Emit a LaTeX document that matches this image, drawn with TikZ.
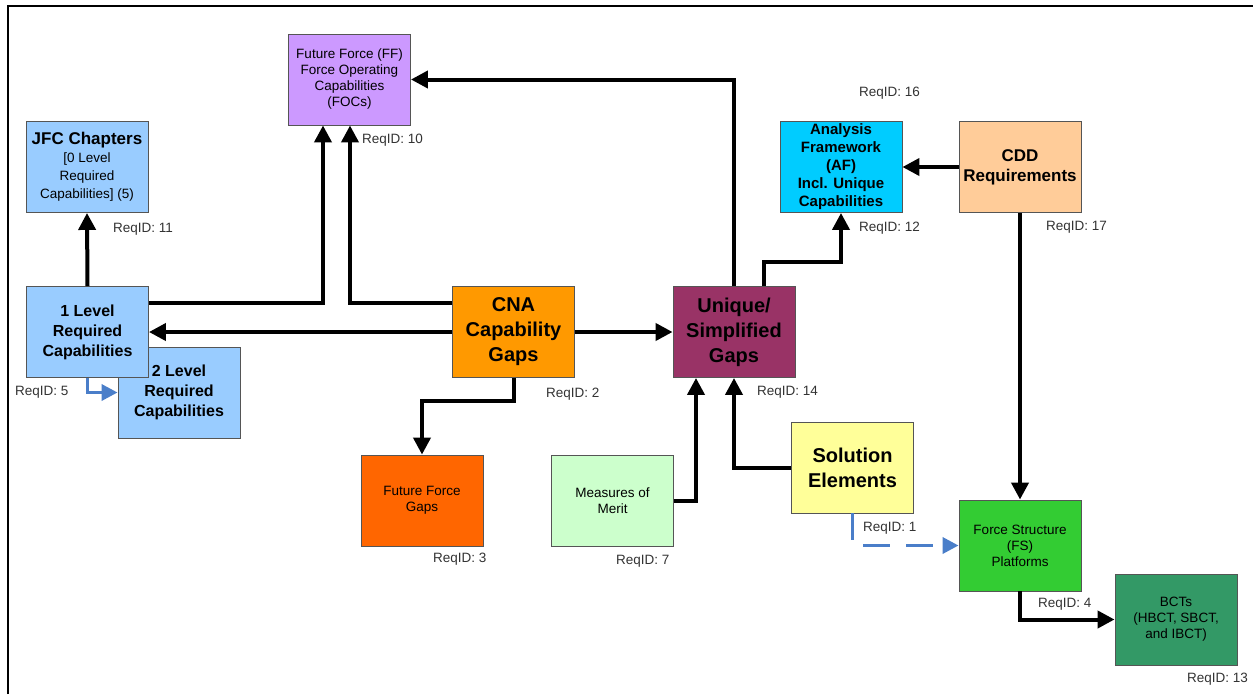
\documentclass[tikz,border=0pt]{standalone}
\usepackage{fontspec}
\setmainfont{Liberation Sans}
\usetikzlibrary{arrows.meta,calc}
\definecolor{lblue}{HTML}{99CCFF}
\definecolor{lviolet}{HTML}{CC99FF}
\definecolor{orng}{HTML}{FF9900}
\definecolor{plum}{HTML}{993366}
\definecolor{cyanb}{HTML}{00CCFF}
\definecolor{peach}{HTML}{FFCC99}
\definecolor{dorng}{HTML}{FF6600}
\definecolor{mint}{HTML}{CCFFCC}
\definecolor{lyel}{HTML}{FFFF99}
\definecolor{grn}{HTML}{33CC33}
\definecolor{sea}{HTML}{339966}
\definecolor{bluearr}{HTML}{4A7EC9}
\definecolor{bordr}{HTML}{555555}
\definecolor{reqc}{HTML}{333333}
\begin{document}
\begin{tikzpicture}[x=1pt,y=-1pt,
  box/.style={draw=bordr,line width=0.9pt,minimum width=122pt,minimum height=91pt,inner sep=0pt,align=center,text=black},
  reg/.style={font=\fontsize{13.5}{16}\selectfont},
  big/.style={font=\fontsize{20}{25}\selectfont\bfseries},
  mid/.style={font=\fontsize{16}{20}\selectfont\bfseries},
  req/.style={anchor=west,inner sep=0pt,text=reqc,font=\fontsize{13.5}{16}\selectfont},
  conn/.style={line width=4pt,-{Triangle[length=17pt,width=17pt]}},
  blueconn/.style={draw=bluearr,line width=3.5pt,-{Triangle[length=16pt,width=16pt]}},
]
\useasboundingbox (0,0) rectangle (1253,694);
\fill[white] (0,0) rectangle (1253,694);
\draw[line width=2.8pt] (8,694) -- (8,6) -- (1253,6);

% boxes
\node[box,fill=lblue,mid] (L2) at (179,392.5) {2 Level\\Required\\Capabilities};
\node[box,fill=lblue,mid] (L1) at (87.5,332) {1 Level\\Required\\Capabilities};
\node[box,fill=lblue,font=\fontsize{13.5}{18}\selectfont] (JFC) at (87,167) {{\fontsize{17}{18}\selectfont\bfseries JFC Chapters}\\{[}0 Level\\Required\\Capabilities{]} (5)};
\node[box,fill=lviolet,reg] (FF) at (349.5,79.5) {Future Force (FF)\\Force Operating\\Capabilities\\(FOCs)};
\node[box,fill=orng,big] (CNA) at (513.5,332) {CNA\\Capability\\Gaps};
\node[box,fill=plum,big] (U) at (734,332) {Unique/\\Simplified\\Gaps};
\node[box,fill=cyanb,font=\fontsize{15}{18}\selectfont\bfseries] (AF) at (841,167) {Analysis\\Framework\\(AF)\\Incl. Unique\\Capabilities};
\node[box,fill=peach,font=\fontsize{17}{20}\selectfont\bfseries] (CDD) at (1020,167) {CDD\\Requirements};
\node[box,fill=dorng,reg] (FFG) at (422,500.5) {Future Force\\Gaps};
\node[box,fill=mint,reg] (MoM) at (612.5,500.5) {Measures of\\Merit};
\node[box,fill=lyel,big] (S) at (852.5,467.5) {Solution\\Elements};
\node[box,fill=grn,reg] (FS) at (1020,545.5) {Force Structure\\(FS)\\Platforms};
\node[box,fill=sea,reg] (BCT) at (1176,619.5) {BCTs\\(HBCT, SBCT,\\and IBCT)};

% connectors
\draw[conn] (L1.north) -- (JFC.south);
\draw[conn] ([yshift=29pt]L1.east) -| ([xshift=-26.5pt]FF.south);
\draw[conn] ([yshift=29pt]CNA.west) -| ([xshift=0.5pt]FF.south);
\draw[conn] (CNA.west) -- (L1.east);
\draw[conn] (CNA.east) -- (U.west);
\draw[conn] (CNA.south) -- ++(0,23) -| (FFG.north);
\draw[conn] (MoM.east) -| ([xshift=-38pt]U.south);
\draw[conn] (S.west) -| (U.south);
\draw[conn] (U.north) |- (FF.east);
\draw[conn] ([xshift=30pt]U.north) -- ++(0,-24) -| (AF.south);
\draw[conn] (CDD.west) -- (AF.east);
\draw[conn] (CDD.south) -- (FS.north);
\draw[conn] (FS.south) |- (BCT.west);
\draw[blueconn] (L1.south) |- (L2.west);
\draw[blueconn,dash pattern=on 27pt off 16pt] (S.south) |- (FS.west);

% labels
\node[req] (r10) at (362,140) {ReqID: 10};
\node[req] (r11) at (113,229) {ReqID: 11};
\node[req] (r5) at (15,392) {ReqID: 5};
\node[req] (r2) at (546,394) {ReqID: 2};
\node[req] (r3) at (433,559) {ReqID: 3};
\node[req] (r7) at (616,561) {ReqID: 7};
\node[req] (r14) at (757,392) {ReqID: 14};
\node[req] (r16) at (859,93) {ReqID: 16};
\node[req] (r12) at (859,228) {ReqID: 12};
\node[req] (r17) at (1046,227) {ReqID: 17};
\node[req] (r1) at (863,528) {ReqID: 1};
\node[req] (r4) at (1038,604) {ReqID: 4};
\node[req] (r13) at (1187,679) {ReqID: 13};
\end{tikzpicture}
\end{document}
